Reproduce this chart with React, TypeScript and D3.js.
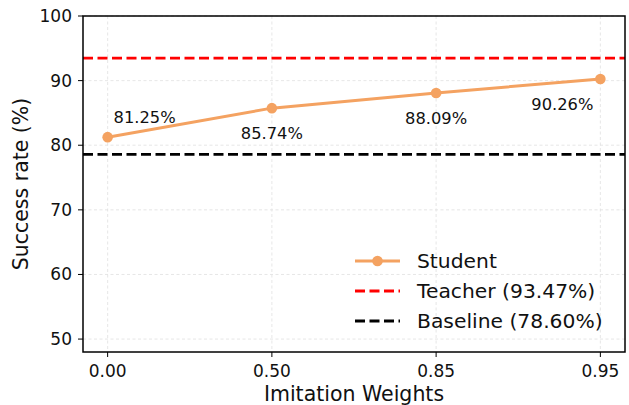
import React from "react";
import * as d3 from "d3";

// data
const weights = ["0.00", "0.50", "0.85", "0.95"];
const studentRates = [81.25, 85.74, 88.09, 90.26];
const teacherRate = 93.47;
const baselineRate = 78.6;
const yTicks = [50, 60, 70, 80, 90, 100];

const size = {
  width: 629,
  height: 405,
  left: 83,
  right: 625,
  top: 16,
  bottom: 352,
};

const font = "DejaVu Sans, Verdana, sans-serif";
const orange = "#f4a261";

// where each value label sits relative to its point (px)
const labelOffsets = [
  [37, -14],
  [0, 31],
  [0, 31],
  [-38, 31],
];

const App = () => {
  const x = d3
    .scaleLinear()
    .domain([-0.15, weights.length - 1 + 0.15])
    .range([size.left, size.right]);
  const y = d3.scaleLinear().domain([48, 100]).range([size.bottom, size.top]);

  const line = d3
    .line<number>()
    .x((d, i) => x(i))
    .y((d) => y(d));

  const legend = [
    { label: "Student", color: orange, dash: null, marker: true },
    { label: `Teacher (${teacherRate.toFixed(2)}%)`, color: "#ff0000", dash: "10 4.5", marker: false },
    { label: `Baseline (${baselineRate.toFixed(2)}%)`, color: "#000000", dash: "10 4.5", marker: false },
  ];

  return (
    <svg
      width={size.width}
      height={size.height}
      style={{ position: "absolute", left: 0, top: 0, background: "#fff" }}
      fontFamily={font}
    >
      {/* grid */}
      <g stroke="#d9d9d9" strokeWidth={0.8} strokeDasharray="3 2.5" opacity={0.8}>
        {yTicks.map((t) => (
          <line key={"gy" + t} x1={size.left} x2={size.right} y1={y(t)} y2={y(t)} />
        ))}
        {weights.map((w, i) => (
          <line key={"gx" + w} x1={x(i)} x2={x(i)} y1={size.top} y2={size.bottom} />
        ))}
      </g>

      {/* reference lines */}
      <line
        x1={size.left}
        x2={size.right}
        y1={y(teacherRate)}
        y2={y(teacherRate)}
        stroke="#ff0000"
        strokeWidth={2.8}
        strokeDasharray="10 4.5"
      />
      <line
        x1={size.left}
        x2={size.right}
        y1={y(baselineRate)}
        y2={y(baselineRate)}
        stroke="#000"
        strokeWidth={2.8}
        strokeDasharray="10 4.5"
      />

      {/* student line */}
      <path d={line(studentRates) || ""} fill="none" stroke={orange} strokeWidth={3} />
      {studentRates.map((d, i) => (
        <circle key={i} cx={x(i)} cy={y(d)} r={5.3} fill={orange} />
      ))}
      {studentRates.map((d, i) => (
        <text
          key={"l" + i}
          x={x(i) + labelOffsets[i][0]}
          y={y(d) + labelOffsets[i][1]}
          textAnchor="middle"
          fontSize={16.3}
          fill="#111"
        >
          {d.toFixed(2) + "%"}
        </text>
      ))}

      {/* axes box */}
      <rect
        x={size.left}
        y={size.top}
        width={size.right - size.left}
        height={size.bottom - size.top}
        fill="none"
        stroke="#000"
        strokeWidth={1.5}
      />

      {/* y ticks */}
      {yTicks.map((t) => (
        <g key={"yt" + t}>
          <line x1={size.left - 5} x2={size.left} y1={y(t)} y2={y(t)} stroke="#000" strokeWidth={1} />
          <text x={size.left - 11} y={y(t) + 6} textAnchor="end" fontSize={17} fill="#111">
            {t}
          </text>
        </g>
      ))}

      {/* x ticks */}
      {weights.map((w, i) => (
        <g key={"xt" + w}>
          <line x1={x(i)} x2={x(i)} y1={size.bottom} y2={size.bottom + 5} stroke="#000" strokeWidth={1} />
          <text x={x(i)} y={377} textAnchor="middle" fontSize={17} fill="#111">
            {w}
          </text>
        </g>
      ))}

      {/* axis labels */}
      <text x={(size.left + size.right) / 2} y={401} textAnchor="middle" fontSize={20.5} fill="#111">
        Imitation Weights
      </text>
      <text
        transform={`translate(28 ${(size.top + size.bottom) / 2}) rotate(-90)`}
        textAnchor="middle"
        fontSize={20.5}
        fill="#111"
      >
        Success rate (%)
      </text>

      {/* legend */}
      <g transform="translate(355 261)">
        {legend.map((l, i) => (
          <g key={l.label} transform={`translate(0 ${i * 30})`}>
            <line
              x1={0}
              x2={45}
              y1={0}
              y2={0}
              stroke={l.color}
              strokeWidth={l.marker ? 3 : 2.8}
              strokeDasharray={l.dash || undefined}
            />
            {l.marker && <circle cx={22.5} cy={0} r={5.3} fill={l.color} />}
            <text x={62} y={7} fontSize={20.3} fill="#111">
              {l.label}
            </text>
          </g>
        ))}
      </g>
    </svg>
  );
};

export default App;
